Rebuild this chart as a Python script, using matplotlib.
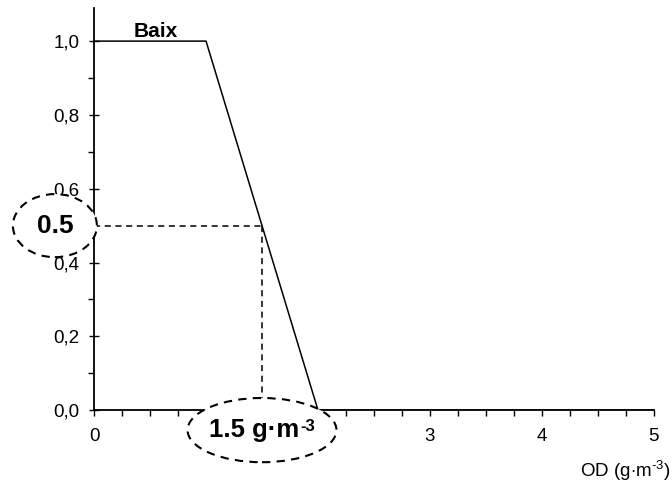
import matplotlib.pyplot as plt
from matplotlib.patches import Ellipse
from matplotlib.ticker import MultipleLocator, FuncFormatter

plt.rcParams['font.family'] = ['Liberation Sans', 'DejaVu Sans']
plt.rcParams['mathtext.fontset'] = 'custom'
plt.rcParams['mathtext.rm'] = 'Liberation Sans'
plt.rcParams['mathtext.bf'] = 'Liberation Sans:bold'

# membership function "Baix"
od = [0, 1.0, 2.0, 5.0]
membership = [1.0, 1.0, 0.0, 0.0]

# marked point
cut_x = 1.5
cut_y = 0.5

fig = plt.figure(figsize=(6.72, 4.93), dpi=100)
ax = fig.add_axes([0.140, 0.168, 0.833, 0.816])

ax.plot(od, membership, color='black', lw=1.1)
ax.plot([0, cut_x], [cut_y, cut_y], color='black', lw=1.1, ls=(0, (4, 3)))
ax.plot([cut_x, cut_x], [cut_y, 0.03], color='black', lw=1.1, ls=(0, (4, 3)))

ax.set_xlim(0, 5)
ax.set_ylim(0, 1.09)
ax.spines['top'].set_visible(False)
ax.spines['right'].set_visible(False)
for s in ['left', 'bottom']:
    ax.spines[s].set_linewidth(1.3)

ax.xaxis.set_major_locator(MultipleLocator(1))
ax.xaxis.set_minor_locator(MultipleLocator(0.25))
ax.yaxis.set_major_locator(MultipleLocator(0.2))
ax.yaxis.set_minor_locator(MultipleLocator(0.1))
ax.yaxis.set_major_formatter(FuncFormatter(lambda v, p: f'{v:.1f}'.replace('.', ',')))
# labels 1 and 2 sit under the ellipse in the original
ax.xaxis.set_major_formatter(FuncFormatter(lambda v, p: '' if round(v) in (1, 2) else f'{v:.0f}'))
ax.tick_params(axis='x', which='both', direction='out', length=4, width=1, labelsize=13.5, pad=9)
ax.tick_params(axis='y', which='major', direction='inout', length=7, width=1, labelsize=13.5, pad=7)
ax.tick_params(axis='y', which='minor', direction='out', length=4, width=1)

ax.text(0.55, 1.0, 'Baix', fontsize=15, fontweight='bold', ha='center', va='bottom')

# circled annotations
e1 = Ellipse((-0.35, 0.5), 0.75, 0.171, facecolor='white', edgecolor='black',
             lw=1.5, ls=(0, (4, 3)), clip_on=False, zorder=5)
ax.add_patch(e1)
ax.text(-0.35, 0.5, '0.5', fontsize=19, fontweight='bold', ha='center', va='center',
        zorder=6, clip_on=False)

e2 = Ellipse((1.5, -0.054), 1.33, 0.174, facecolor='white', edgecolor='black',
             lw=1.5, ls=(0, (4, 3)), clip_on=False, zorder=5)
ax.add_patch(e2)
t1 = ax.text(1.43, -0.054, '1.5 g\u00b7m', fontsize=18.5, fontweight='bold', ha='center',
             va='center', zorder=6, clip_on=False)
ax.annotate('-3', xy=(1, 1), xycoords=t1, xytext=(1, -1), textcoords='offset points',
            fontsize=12, fontweight='bold', ha='left', va='top', zorder=6,
            annotation_clip=False)

fig.text(0.997, 0.045, r'OD (g$\cdot$m$^{\text{-3}}$)', fontsize=13.5, ha='right', va='center')

fig.savefig('out.png', dpi=100)
